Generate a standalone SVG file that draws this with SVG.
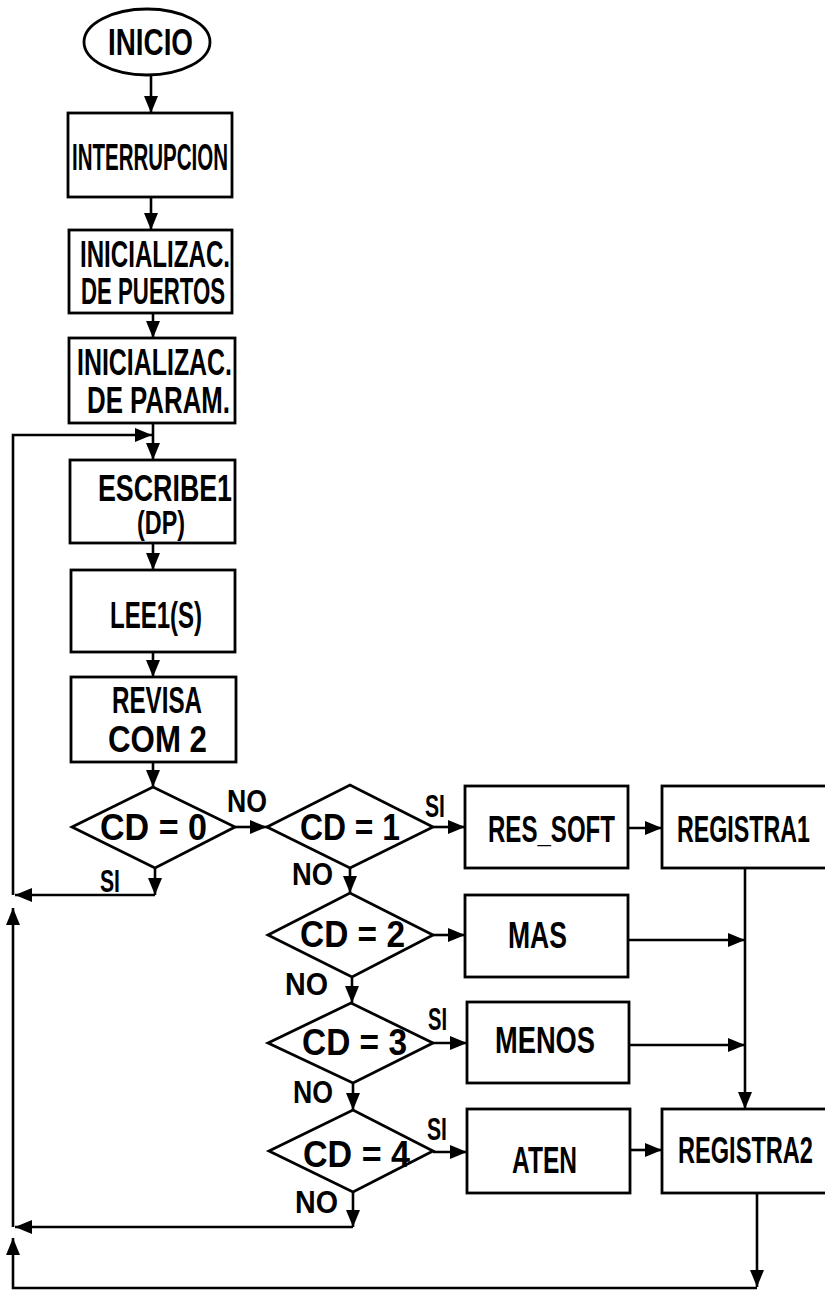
<svg xmlns="http://www.w3.org/2000/svg" width="825" height="1291" viewBox="0 0 825 1291">
<defs>
<marker id="ah" viewBox="0 0 17 14" refX="17" refY="7" markerWidth="17" markerHeight="14" markerUnits="userSpaceOnUse" orient="auto">
<path d="M0,0 L17,7 L0,14 Z" fill="#000"/>
</marker>
</defs>
<style>
.b{fill:#fff;stroke:#000;stroke-width:2.8}
.a{fill:none;stroke:#000;stroke-width:2.6;marker-end:url(#ah)}
text{font-family:"Liberation Sans",Arial,sans-serif;font-weight:bold;font-size:36px;fill:#000}
.s{font-size:32px}
</style>
<rect width="825" height="1291" fill="#fff"/>
<g id="connectors">
<path class="a" d="M151,75 V113"/>
<path class="a" d="M151,197 V230"/>
<path class="a" d="M153,313 V338"/>
<path class="a" d="M153,423 V460"/>
<path class="a" d="M13,895 V435 H152"/>
<path class="a" d="M153,543 V570"/>
<path class="a" d="M153,652 V677"/>
<path class="a" d="M153,762 V787"/>
<path class="a" d="M235,827 H267"/>
<path class="a" d="M433,827 H465"/>
<path class="a" d="M628,828 H662"/>
<path class="a" d="M155,868 V895"/>
<path class="a" d="M155,895 H15"/>
<path class="a" d="M13,1227 V908"/>
<path class="a" d="M350,868 V893"/>
<path class="a" d="M433,935 H465"/>
<path class="a" d="M628,940 H745"/>
<path class="a" d="M352,977 V1003"/>
<path class="a" d="M433,1043 H467"/>
<path class="a" d="M629,1045 H745"/>
<path class="a" d="M745,868 V1109"/>
<path class="a" d="M353,1083 V1110"/>
<path class="a" d="M433,1152 H467"/>
<path class="a" d="M630,1150 H662"/>
<path class="a" d="M353,1192 V1227"/>
<path class="a" d="M353,1227 H15"/>
<path class="a" d="M757,1193 V1287"/>
<path class="a" d="M757,1288 H13 V1238"/>
</g>
<g id="inicio">
<ellipse class="b" cx="147" cy="42" rx="63" ry="33"/>
<text x="108" y="55" textLength="85" lengthAdjust="spacingAndGlyphs">INICIO</text>
</g>
<g id="interrupcion">
<rect class="b" x="68" y="113" width="164" height="84"/>
<text x="72" y="170" textLength="156" lengthAdjust="spacingAndGlyphs">INTERRUPCION</text>
</g>
<g id="init_puertos">
<rect class="b" x="69" y="230" width="163" height="83"/>
<text x="80" y="267" textLength="150" lengthAdjust="spacingAndGlyphs">INICIALIZAC.</text>
<text x="81" y="304" textLength="144" lengthAdjust="spacingAndGlyphs">DE PUERTOS</text>
</g>
<g id="init_param">
<rect class="b" x="69" y="338" width="166" height="85"/>
<text x="77" y="375" textLength="155" lengthAdjust="spacingAndGlyphs">INICIALIZAC.</text>
<text x="87" y="413" textLength="143" lengthAdjust="spacingAndGlyphs">DE PARAM.</text>
</g>
<g id="escribe1">
<rect class="b" x="70" y="460" width="165" height="83"/>
<text x="98" y="501" textLength="134" lengthAdjust="spacingAndGlyphs">ESCRIBE1</text>
<text x="137" y="534" textLength="48" lengthAdjust="spacingAndGlyphs" style="font-size:33px">(DP)</text>
</g>
<g id="lee1">
<rect class="b" x="71" y="570" width="164" height="82"/>
<text x="110" y="628" textLength="92" lengthAdjust="spacingAndGlyphs">LEE1(S)</text>
</g>
<g id="revisa">
<rect class="b" x="71" y="677" width="165" height="85"/>
<text x="112" y="713" textLength="90" lengthAdjust="spacingAndGlyphs">REVISA</text>
<text x="108" y="752" textLength="99" lengthAdjust="spacingAndGlyphs">COM 2</text>
</g>
<g id="cd0">
<polygon class="b" points="72,827 153,787 235,827 155,868"/>
<text x="100" y="840" textLength="107" lengthAdjust="spacingAndGlyphs">CD = 0</text>
</g>
<g id="cd1">
<polygon class="b" points="267,827 350,785 433,827 350,868"/>
<text x="300" y="840" textLength="100" lengthAdjust="spacingAndGlyphs">CD = 1</text>
</g>
<g id="cd2">
<polygon class="b" points="268,935 350,893 433,935 352,977"/>
<text x="300" y="947" textLength="105" lengthAdjust="spacingAndGlyphs">CD = 2</text>
</g>
<g id="cd3">
<polygon class="b" points="268,1043 351,1003 433,1043 353,1083"/>
<text x="302" y="1055" textLength="105" lengthAdjust="spacingAndGlyphs">CD = 3</text>
</g>
<g id="cd4">
<polygon class="b" points="269,1151 353,1110 433,1151 353,1192"/>
<text x="303" y="1167" textLength="107" lengthAdjust="spacingAndGlyphs">CD = 4</text>
</g>
<g id="res_soft">
<rect class="b" x="465" y="786" width="163" height="82"/>
<text x="488" y="842" textLength="127" lengthAdjust="spacingAndGlyphs">RES_SOFT</text>
</g>
<g id="registra1">
<rect class="b" x="662" y="786" width="170" height="82"/>
<text x="677" y="842" textLength="133" lengthAdjust="spacingAndGlyphs">REGISTRA1</text>
</g>
<g id="mas">
<rect class="b" x="465" y="895" width="163" height="82"/>
<text x="508" y="948" textLength="59" lengthAdjust="spacingAndGlyphs">MAS</text>
</g>
<g id="menos">
<rect class="b" x="467" y="1002" width="162" height="81"/>
<text x="495" y="1053" textLength="100" lengthAdjust="spacingAndGlyphs">MENOS</text>
</g>
<g id="aten">
<rect class="b" x="467" y="1109" width="163" height="84"/>
<text x="512" y="1173" textLength="65" lengthAdjust="spacingAndGlyphs">ATEN</text>
</g>
<g id="registra2">
<rect class="b" x="662" y="1109" width="170" height="84"/>
<text x="678" y="1163" textLength="135" lengthAdjust="spacingAndGlyphs">REGISTRA2</text>
</g>
<g id="labels">
<text class="s" x="227" y="812" textLength="40" lengthAdjust="spacingAndGlyphs">NO</text>
<text class="s" x="425" y="817" textLength="20" lengthAdjust="spacingAndGlyphs">SI</text>
<text class="s" x="100" y="892" textLength="20" lengthAdjust="spacingAndGlyphs">SI</text>
<text class="s" x="292" y="885" textLength="41" lengthAdjust="spacingAndGlyphs">NO</text>
<text class="s" x="285" y="995" textLength="43" lengthAdjust="spacingAndGlyphs">NO</text>
<text class="s" x="428" y="1030" textLength="19" lengthAdjust="spacingAndGlyphs">SI</text>
<text class="s" x="293" y="1103" textLength="40" lengthAdjust="spacingAndGlyphs">NO</text>
<text class="s" x="427" y="1140" textLength="20" lengthAdjust="spacingAndGlyphs">SI</text>
<text class="s" x="295" y="1213" textLength="43" lengthAdjust="spacingAndGlyphs">NO</text>
</g>
</svg>
